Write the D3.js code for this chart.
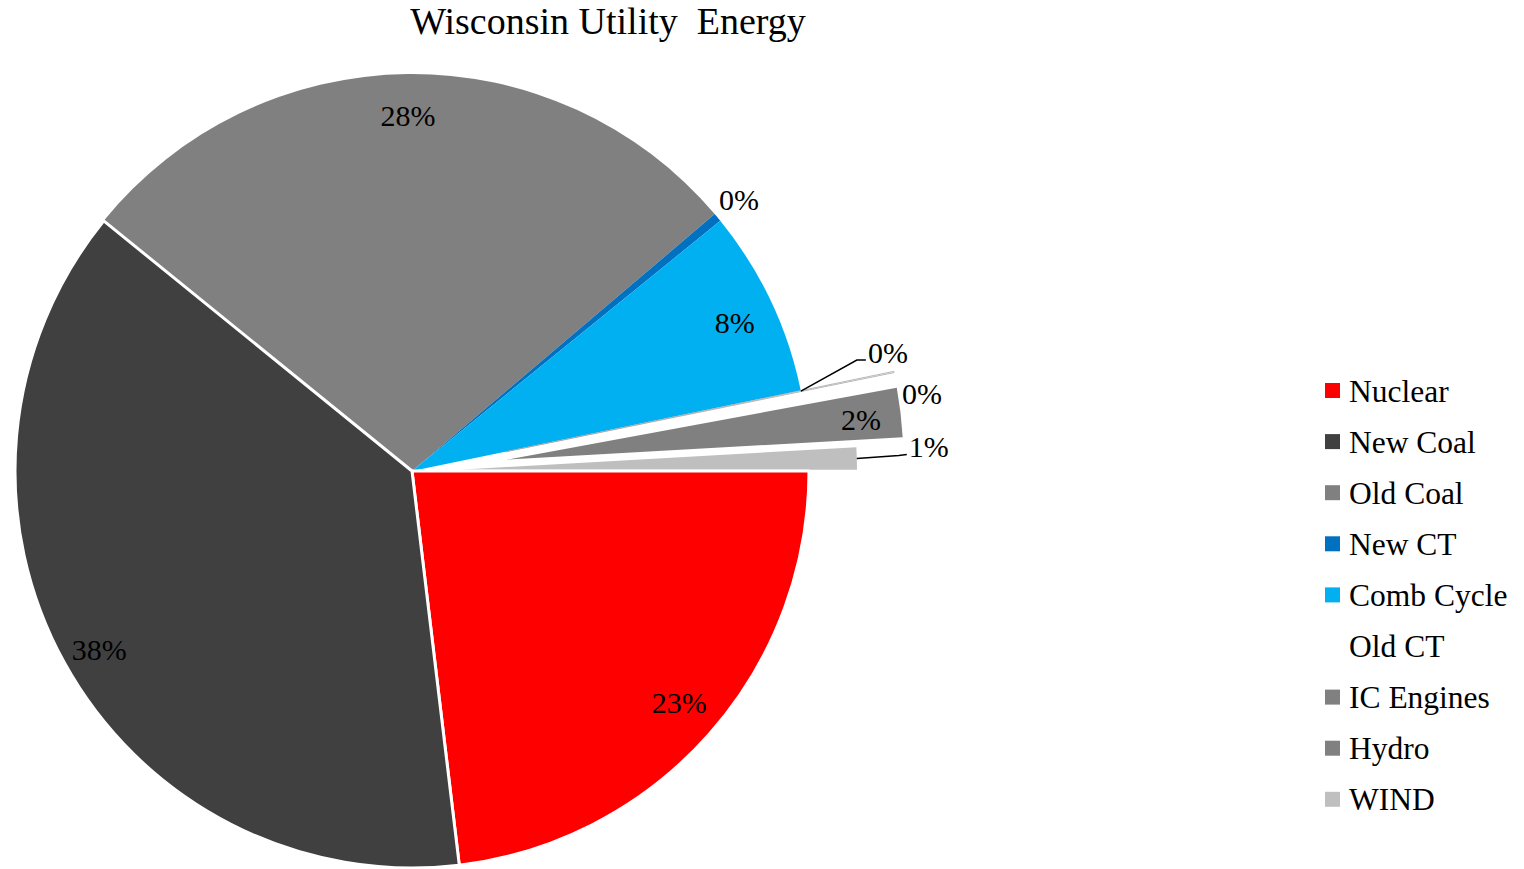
<!DOCTYPE html>
<html>
<head>
  <meta charset="utf-8">
  <style>
    body { margin: 0; background: #fff; }
    text { font-family: "Liberation Serif", "Times New Roman", serif; fill: #000; }
  </style>
  <title>Wisconsin Utility Energy</title>
  <script src="https://cdn.jsdelivr.net/npm/d3@7/dist/d3.min.js"></script>
</head>
<body>
<script>
  // Data (percent of total energy)
  const names  = ["Nuclear", "New Coal", "Old Coal", "New CT", "Comb Cycle", "Old CT", "IC Engines", "Hydro", "WIND"];
  const shares = [23.1, 37.75, 27.95, 0.35, 7.6, 0.05, 0.3, 2.0, 0.9];
  const labels = ["23%", "38%", "28%", "0%", "8%", "0%", "0%", "2%", "1%"];
  const colors = ["#ff0000", "#404040", "#808080", "#0070c0", "#00b0f0", "#ffffff", "#808080", "#808080", "#bfbfbf"];

  const width = 1524, height = 869;
  const cx = 412, cy = 471, R = 397;

  // pulled-out slices (px)
  const explode = { "Old CT": 95, "IC Engines": 95, "Hydro": 95, "WIND": 48 };
  // slices with a white border
  const bordered = ["Nuclear", "New Coal"];

  const data = names.map((n, i) => ({ name: n, v: shares[i], label: labels[i], color: colors[i] }));

  const svg = d3.select("body").append("svg")
      .attr("width", width)
      .attr("height", height);

  // Title
  svg.append("text")
      .attr("x", 608)
      .attr("y", 34)
      .attr("text-anchor", "middle")
      .style("font-size", "38px")
      .style("white-space", "pre")
      .text("Wisconsin Utility  Energy");

  const pie = d3.pie()
      .sort(null)
      .value(d => d.v)
      .startAngle(Math.PI / 2)
      .endAngle(Math.PI / 2 + 2 * Math.PI);

  const arc = d3.arc().innerRadius(0).outerRadius(R);
  const arcs = pie(data);

  const polar = (a, r) => [r * Math.sin(a), -r * Math.cos(a)];
  const mid = d => (d.startAngle + d.endAngle) / 2;
  const offset = d => polar(mid(d), explode[d.data.name] || 0);

  const g = svg.append("g").attr("transform", "translate(" + cx + "," + cy + ")");

  // draw un-bordered slices first so white borders sit on top
  const ordered = arcs.slice().sort((a, b) =>
      (bordered.includes(a.data.name) ? 1 : 0) - (bordered.includes(b.data.name) ? 1 : 0));

  // IC Engines slice shows as an empty gap in the original; Old CT only as its outline
  g.selectAll("path.slice")
    .data(ordered)
    .enter().append("path")
      .attr("class", "slice")
      .attr("d", arc)
      .attr("transform", d => "translate(" + offset(d).join(",") + ")")
      .attr("fill", d => d.data.name === "IC Engines" ? "#fff" : d.data.color)
      .attr("stroke", d => bordered.includes(d.data.name) ? "#fff" : (d.data.name === "Old CT" ? "#a6a6a6" : "none"))
      .attr("stroke-width", d => bordered.includes(d.data.name) ? 3 : 0.8)
      .attr("stroke-linejoin", "round");

  // Data labels
  const byName = {};
  arcs.forEach(d => byName[d.data.name] = d);

  // inside labels (small vertical nudges like excel's best fit)
  const nudge = { "Nuclear": -8, "New Coal": 4, "Old Coal": 0, "Comb Cycle": 3, "Hydro": 0 };
  Object.keys(nudge).forEach(n => {
    const d = byName[n];
    const o = offset(d), p = polar(mid(d), R * 0.9);
    g.append("text")
        .attr("x", o[0] + p[0])
        .attr("y", o[1] + p[1] + 2 + nudge[n])
        .attr("text-anchor", "middle")
        .attr("dominant-baseline", "central")
        .style("font-size", "30px")
        .text(d.data.label);
  });

  // outside labels without leader
  [["New CT", 0, 28], ["IC Engines", 0.05, 24]].forEach(([n, da, dr]) => {
    const d = byName[n];
    const o = offset(d), p = polar(mid(d) + da, R + dr);
    g.append("text")
        .attr("x", o[0] + p[0])
        .attr("y", o[1] + p[1])
        .attr("text-anchor", "middle")
        .attr("dominant-baseline", "central")
        .style("font-size", "30px")
        .text(d.data.label);
  });

  // labels with leader lines
  const leader = (n, fromExploded, pts) => {
    const d = byName[n];
    const o = fromExploded ? offset(d) : [0, 0];
    const s = polar(mid(d), R);
    const start = [o[0] + s[0], o[1] + s[1]];
    const line = [start].concat(pts.map(p => [start[0] + p[0], start[1] + p[1]]));
    g.append("path")
        .attr("d", d3.line()(line))
        .attr("fill", "none")
        .attr("stroke", "#000")
        .attr("stroke-width", 1.5);
    const end = line[line.length - 1];
    g.append("text")
        .attr("x", end[0] + 2)
        .attr("y", end[1] + 3)
        .style("font-size", "30px")
        .text(d.data.label);
  };
  leader("Old CT", false, [[56, -31], [65, -31]]);
  leader("WIND", true, [[42, -3], [50, -4]]);

  // Legend
  const legend = svg.append("g").attr("transform", "translate(1325,391)");
  const rows = legend.selectAll("g")
    .data(data)
    .enter().append("g")
      .attr("transform", (d, i) => "translate(0," + (i * 51.1) + ")");
  rows.append("rect")
      .attr("x", 0)
      .attr("y", -8)
      .attr("width", 15)
      .attr("height", 15)
      .attr("fill", d => d.color);
  rows.append("text")
      .attr("x", 24)
      .attr("y", 0)
      .attr("dominant-baseline", "central")
      .style("font-size", "31.5px")
      .text(d => d.name);
</script>
</body>
</html>
